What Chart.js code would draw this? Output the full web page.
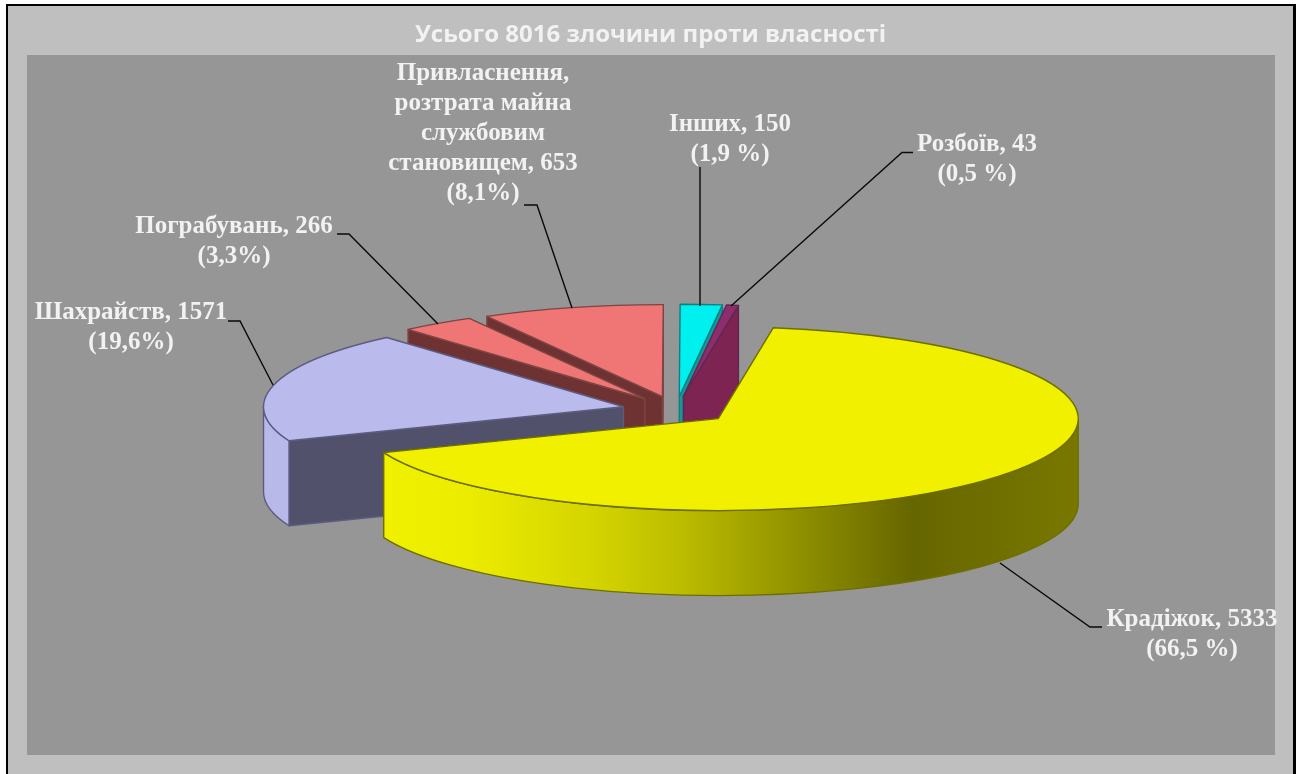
<!DOCTYPE html>
<html lang="uk">
<head>
<meta charset="utf-8">
<title>Злочини проти власності</title>
<style>html,body{margin:0;padding:0;background:#fff}canvas{display:block}</style>
<script src="https://cdn.jsdelivr.net/npm/chart.js@4"></script>
</head>
<body>
<canvas id="c" width="1301" height="774"></canvas>
<script>
const chartTitle = 'Усього 8016 злочини проти власності';
const categories = ['Крадіжок', 'Шахрайств', 'Пограбувань', 'Привласнення', 'Інших', 'Розбоїв'];
const values = [5333, 1571, 266, 653, 150, 43];
const labelTexts = [
  ['Крадіжок, 5333', '(66,5 %)'],
  ['Шахрайств, 1571', '(19,6%)'],
  ['Пограбувань, 266', '(3,3%)'],
  ['Привласнення,', 'розтрата майна', 'службовим', 'становищем, 653', '(8,1%)'],
  ['Інших, 150', '(1,9 %)'],
  ['Розбоїв, 43', '(0,5 %)']
];
const topColors = ['#f0f000', '#babaec', '#f07575', '#f07575', '#00f0f0', '#8e2d6e'];
const wallColors = ['#f0f000', '#51516b', '#6e3232', '#6e3232', '#129a9a', '#7d2453'];
const rimColors = ['#b9b9e9'];
const edgeColors = ['#6f6f00', '#5c5c80', '#7d4545', '#7d4545', '#0f7f80', '#5f2850'];
const paintOrder = [3, 2, 1, 4, 5, 0];

// layout of the tilted, exploded pie
const pieRotation = 8.8, pieRadius = 360, tilt = 92 / 360, explode = 54, depth = 85;
const pieCentre = {x: 676, y: 410};

// label layout: centre x, first line y, line step, leader polyline
const labelLayout = [
  {x: 1192, y: 620, step: 30, leader: [[1102, 627], [1090, 627], [1000, 563]]},
  {x: 131, y: 313, step: 30, leader: [[228, 321], [240, 321], [273, 385]]},
  {x: 234, y: 227, step: 30, leader: [[337, 234], [349, 234], [438, 324]]},
  {x: 483, y: 74, step: 30, leader: [[524, 205], [537, 205], [572, 308]]},
  {x: 730, y: 125, step: 30, leader: [[700, 167], [700, 306]]},
  {x: 977, y: 145, step: 30, leader: [[913, 152.5], [902, 152.5], [731, 306]]}
];

const pie3d = {
  id: 'pie3d',
  beforeDraw(chart) {
    const c = chart.ctx;
    c.save();
    c.fillStyle = '#ffffff'; c.fillRect(0, 0, 1301, 774);
    c.fillStyle = '#000000'; c.fillRect(6, 4, 1290, 770);
    c.fillStyle = '#bfbfbf'; c.fillRect(8, 6, 1285, 768);
    c.fillStyle = '#969696'; c.fillRect(27, 55, 1248, 700);
    c.restore();
  },
  beforeDatasetDraw(chart, args) {
    const c = chart.ctx;
    const arcs = chart.getDatasetMeta(args.index).data;
    paintOrder.forEach(i => {
      const arc = arcs[i];
      const a0 = arc.startAngle, a1 = arc.endAngle, R = arc.outerRadius, mid = (a0 + a1) / 2;
      const cx = pieCentre.x + Math.cos(mid) * explode;
      const cy = pieCentre.y + Math.sin(mid) * explode * tilt;
      const pt = a => [cx + R * Math.cos(a), cy + R * tilt * Math.sin(a)];
      const edge = edgeColors[i];
      c.save();
      c.lineWidth = 1.4; c.lineJoin = 'round'; c.strokeStyle = edge;
      const cutWall = a => {
        const p = pt(a);
        c.beginPath();
        c.moveTo(cx, cy); c.lineTo(p[0], p[1]); c.lineTo(p[0], p[1] + depth); c.lineTo(cx, cy + depth);
        c.closePath();
        c.fillStyle = wallColors[i]; c.fill(); c.stroke();
      };
      if (Math.cos(a0) < -1e-6) cutWall(a0);
      if (Math.cos(a1) > 1e-6) cutWall(a1);
      // outer rim wall: only the part facing the viewer
      const parts = [];
      for (let k = -1; k <= 1; k++) {
        const lo = Math.max(a0, k * 2 * Math.PI), hi = Math.min(a1, k * 2 * Math.PI + Math.PI);
        if (hi > lo) parts.push([lo, hi]);
      }
      parts.forEach(([lo, hi]) => {
        c.beginPath();
        c.ellipse(cx, cy, R, R * tilt, 0, lo, hi);
        c.ellipse(cx, cy + depth, R, R * tilt, 0, hi, lo, true);
        c.closePath();
        if (i === 0) {
          const g = c.createLinearGradient(384, 0, 1079, 0);
          g.addColorStop(0, '#f0f000');
          g.addColorStop(0.12, '#ecec00');
          g.addColorStop(0.30, '#d4d400');
          g.addColorStop(0.42, '#bebe00');
          g.addColorStop(0.60, '#8f8f00');
          g.addColorStop(0.76, '#666600');
          g.addColorStop(1, '#787800');
          c.fillStyle = g;
        } else {
          c.fillStyle = rimColors[0];
        }
        c.fill(); c.stroke();
      });
      // top face, drawn by the library's own arc element under the tilt transform
      c.save();
      c.translate(cx, cy);
      c.scale(1, tilt);
      c.translate(-arc.x, -arc.y);
      arc.draw(c);
      c.beginPath();
      c.moveTo(arc.x, arc.y);
      c.arc(arc.x, arc.y, R, a0, a1);
      c.closePath();
      c.restore();
      c.stroke();
      c.restore();
    });
    return false;
  },
  afterDraw(chart) {
    const c = chart.ctx;
    c.save();
    c.strokeStyle = '#0a0a0a'; c.lineWidth = 1.4;
    labelLayout.forEach(l => {
      c.beginPath();
      l.leader.forEach((p, j) => j ? c.lineTo(p[0], p[1]) : c.moveTo(p[0], p[1]));
      c.stroke();
    });
    c.fillStyle = '#f2f2f2';
    c.font = 'bold 25px "Liberation Serif"';
    c.textAlign = 'center'; c.textBaseline = 'middle';
    labelLayout.forEach((l, i) => {
      labelTexts[i].forEach((t, j) => c.fillText(t, l.x, l.y + j * l.step));
    });
    c.restore();
  }
};

new Chart(document.getElementById('c'), {
  type: 'pie',
  plugins: [pie3d],
  data: {
    labels: categories,
    datasets: [{
      data: values,
      backgroundColor: topColors,
      borderWidth: 0,
      offset: 0
    }]
  },
  options: {
    responsive: false,
    animation: false,
    rotation: pieRotation,
    radius: pieRadius,
    layout: {padding: 0},
    plugins: {
      legend: {display: false},
      tooltip: {enabled: false},
      title: {
        display: true,
        text: chartTitle,
        color: '#f2f2f2',
        font: {family: '"Open Sans"', weight: 'bold', size: 24},
        padding: {top: 21, bottom: 0}
      }
    }
  }
});
</script>
</body>
</html>
